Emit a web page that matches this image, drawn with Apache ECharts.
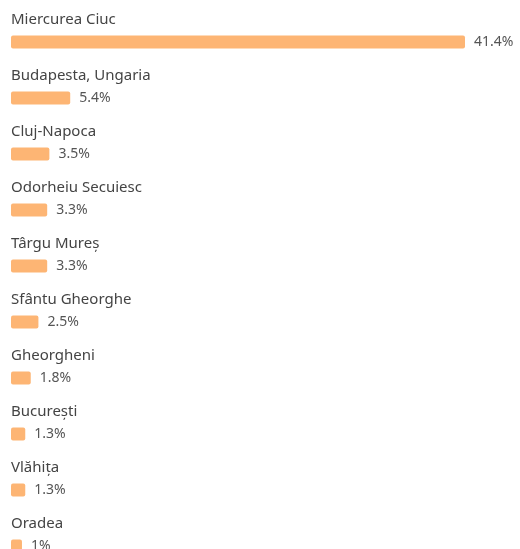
<!DOCTYPE html>
<html>
<head>
<meta charset="utf-8">
<script src="https://cdn.jsdelivr.net/npm/echarts@6/dist/echarts.min.js"></script>
<style>
html,body{margin:0;padding:0;background:#fff;}
#chart{width:520px;height:549px;}
</style>
</head>
<body>
<div id="chart"></div>
<script>
const categories = ["Miercurea Ciuc", "Budapesta, Ungaria", "Cluj-Napoca", "Odorheiu Secuiesc", "Târgu Mureș", "Sfântu Gheorghe", "Gheorgheni", "București", "Vlăhița", "Oradea"];
const values = [41.4, 5.4, 3.5, 3.3, 3.3, 2.5, 1.8, 1.3, 1.3, 1];

const chart = echarts.init(document.getElementById('chart'), null, {renderer: 'canvas'});
chart.setOption({
  animation: false,
  grid: {left: 11, right: 55, top: 14, height: 560, containLabel: false, outerBoundsMode: 'none'},
  xAxis: {type: 'value', min: 0, max: 41.4, show: false},
  yAxis: {
    type: 'category', data: categories, inverse: true,
    axisLine: {show: false}, axisTick: {show: false}, splitLine: {show: false},
    axisLabel: {
      inside: true, margin: 0, align: 'left', verticalAlign: 'bottom',
      padding: [0, 0, 13, 0], lineHeight: 18,
      fontFamily: 'Noto Sans', fontSize: 15, color: '#444'
    }
  },
  series: [{
    type: 'bar', data: values, barWidth: 13,
    itemStyle: {color: '#fdb574', borderRadius: 2},
    label: {
      show: true, position: 'right', distance: 9, formatter: '{c}%',
      fontFamily: 'Noto Sans', fontSize: 14, color: '#555'
    }
  }]
});
</script>
</body>
</html>
